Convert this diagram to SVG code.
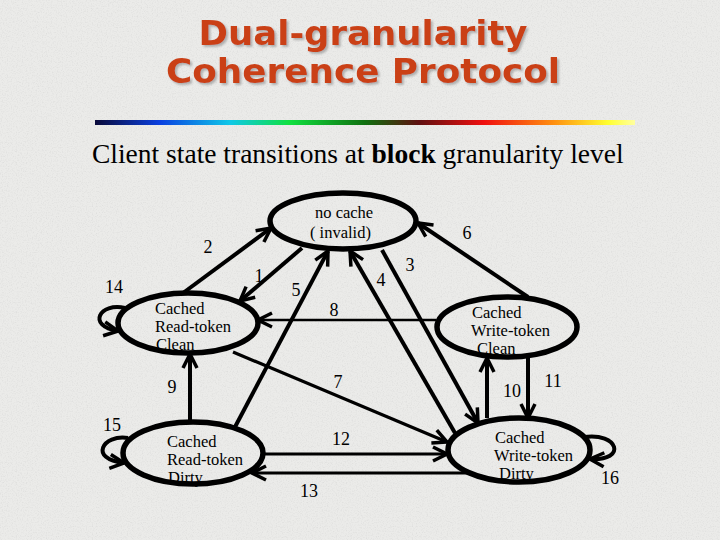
<svg xmlns="http://www.w3.org/2000/svg" width="720" height="540" viewBox="0 0 720 540">
<defs>
<style>
.title{font-family:"DejaVu Sans",sans-serif;font-weight:bold;font-size:34px;fill:#ca4116;text-anchor:middle;filter:url(#shadow)}
.sub{font-family:"Liberation Serif","Times New Roman",serif;font-size:27.5px;fill:#000}
.node ellipse{fill:none;stroke:#000;stroke-width:5.5}
.node text{font-family:"Liberation Serif","Times New Roman",serif;font-size:16.5px;fill:#000}
.lbl{font-family:"Liberation Serif","Times New Roman",serif;font-size:18px;fill:#000;text-anchor:middle}
.edge{fill:none;stroke:#000;stroke-width:4;marker-end:url(#arr)}
.thin{stroke-width:2.6}
.mid{stroke-width:3.2}
</style>
<marker id="arr" viewBox="0 0 18 18" refX="16" refY="9" markerWidth="18" markerHeight="18" markerUnits="userSpaceOnUse" orient="auto">
<path d="M2,2 L16,9 L2,16" fill="none" stroke="#000" stroke-width="3.5"/>
</marker>
<linearGradient id="bar" x1="0" y1="0" x2="1" y2="0">
<stop offset="0" stop-color="#0a0a3a"/>
<stop offset="0.12" stop-color="#0a40e0"/>
<stop offset="0.25" stop-color="#10c8e8"/>
<stop offset="0.36" stop-color="#10e040"/>
<stop offset="0.5" stop-color="#107010"/>
<stop offset="0.6" stop-color="#601010"/>
<stop offset="0.72" stop-color="#f01010"/>
<stop offset="0.85" stop-color="#ff9010"/>
<stop offset="0.95" stop-color="#ffff30"/>
<stop offset="1" stop-color="#ffffa0"/>
</linearGradient>
<filter id="noise" x="0" y="0" width="100%" height="100%">
<feTurbulence type="fractalNoise" baseFrequency="0.8" numOctaves="2" seed="4"/>
<feColorMatrix type="matrix" values="0 0 0 0 0.5 0 0 0 0 0.5 0 0 0 0 0.5 1.2 0 0 0 -0.55"/>
</filter>
<filter id="shadow" x="-5%" y="-20%" width="110%" height="150%">
<feDropShadow dx="2" dy="2" stdDeviation="1" flood-color="#808080" flood-opacity="0.55"/>
</filter>
</defs>
<rect width="720" height="540" fill="#ebebe9"/>
<rect width="720" height="540" filter="url(#noise)" opacity="0.5"/>

<g id="title">
<text class="title" x="363" y="45" textLength="329" lengthAdjust="spacingAndGlyphs">Dual-granularity</text>
<text class="title" x="363" y="83" textLength="394" lengthAdjust="spacingAndGlyphs">Coherence Protocol</text>
</g>
<rect x="95" y="120" width="540" height="5" fill="url(#bar)"/>
<text class="sub" x="92" y="163">Client state transitions at <tspan font-weight="bold">block</tspan> granularity level</text>

<g id="connectors">
<path class="edge" d="M183,293 L271,228"/>
<path class="edge" d="M302,248 L240,301"/>
<path class="edge" d="M235,427 L328,251"/>
<path class="edge" d="M455,433 L350,251"/>
<path class="edge" d="M382,250 L478,423"/>
<path class="edge" d="M528,297 L418,223"/>
<path class="edge thin" d="M436,320 L258,320"/>
<path class="edge mid" d="M233,352 L447,442"/>
<path class="edge" d="M190,422 L190,354"/>
<path class="edge mid" d="M263,454 L447,454"/>
<path class="edge mid" d="M470,473 L252,473"/>
<path class="edge" d="M487,418 L487,358"/>
<path class="edge" d="M528,358 L528,418"/>
<path class="edge" d="M125,308 C100,302 86,326 118,331"/>
<path class="edge" d="M128,438 C103,434 88,459 124,463"/>
<path class="edge" d="M584,437 C618,432 628,461 590,459"/>
</g>

<g id="n-nocache" class="node">
<ellipse cx="343" cy="221" rx="73" ry="28"/>
<text x="315" y="218">no cache</text>
<text x="310" y="238">(   invalid)</text>
</g>
<g id="n-rtc" class="node">
<ellipse cx="188" cy="323" rx="70" ry="30"/>
<text x="155" y="314">Cached</text>
<text x="155" y="332">Read-token</text>
<text x="156" y="350">Clean</text>
</g>
<g id="n-wtc" class="node">
<ellipse cx="507" cy="327" rx="70" ry="30"/>
<text x="472" y="318">Cached</text>
<text x="471" y="336">Write-token</text>
<text x="477" y="354">Clean</text>
</g>
<g id="n-rtd" class="node">
<ellipse cx="193" cy="453" rx="70" ry="31"/>
<text x="167" y="447">Cached</text>
<text x="167" y="465">Read-token</text>
<text x="168" y="483">Dirty</text>
</g>
<g id="n-wtd" class="node">
<ellipse cx="519" cy="450" rx="71" ry="32"/>
<text x="495" y="443">Cached</text>
<text x="494" y="461">Write-token</text>
<text x="499" y="479">Dirty</text>
</g>

<g id="labels">
<text class="lbl" x="208" y="253">2</text>
<text class="lbl" x="259" y="282">1</text>
<text class="lbl" x="114" y="293">14</text>
<text class="lbl" x="296" y="296">5</text>
<text class="lbl" x="381" y="286">4</text>
<text class="lbl" x="334" y="316">8</text>
<text class="lbl" x="410" y="271">3</text>
<text class="lbl" x="467" y="239">6</text>
<text class="lbl" x="338" y="388">7</text>
<text class="lbl" x="172" y="393">9</text>
<text class="lbl" x="112" y="431">15</text>
<text class="lbl" x="341" y="445">12</text>
<text class="lbl" x="309" y="497">13</text>
<text class="lbl" x="512" y="397">10</text>
<text class="lbl" x="553" y="387">11</text>
<text class="lbl" x="610" y="484">16</text>
</g>
</svg>
